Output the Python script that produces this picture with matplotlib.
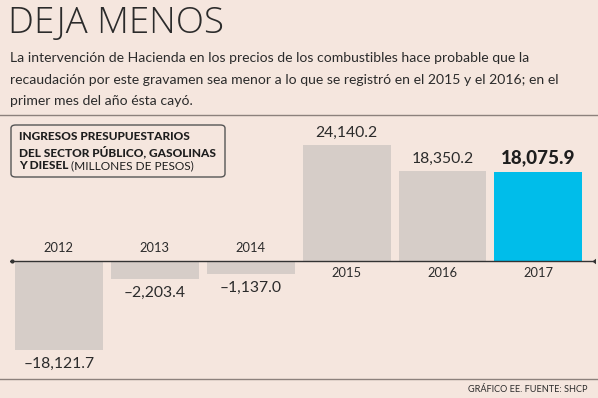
import matplotlib.pyplot as plt
import numpy as np
from matplotlib.patches import FancyBboxPatch

# Datos: ingresos presupuestarios, gasolinas y diesel (millones de pesos)
years = ['2012', '2013', '2014', '2015', '2016', '2017']
values = [-18121.7, -2203.4, -1137.0, 24140.2, 18350.2, 18075.9]
labels = ['\u201318,121.7', '\u20132,203.4', '\u20131,137.0',
          '24,140.2', '18,350.2', '18,075.9']

title = 'DEJA MENOS'
subtitle = ['La intervención de Hacienda en los precios de los combustibles hace probable que la',
            'recaudación por este gravamen sea menor a lo que se registró en el 2015 y el 2016; en el',
            'primer mes del año ésta cayó.']
source = 'GRÁFICO EE. FUENTE: SHCP'

bg = '#f5e6de'
grey_bar = '#d6cdc8'
blue_bar = '#00bdea'
txt = '#2b2b2b'

W, H = 598, 398
fig = plt.figure(figsize=(W / 100, H / 100), dpi=100, facecolor=bg)


def fx(px):
    return px / W


def fy(py):
    return 1 - py / H


# Titulo y texto
fig.text(fx(8), fy(23), title, fontsize=26.5, family='Open Sans',
         weight='light', color=txt, va='center', ha='left')
for i, line in enumerate(subtitle):
    fig.text(fx(10), fy(58 + 21.5 * i), line, fontsize=10.1, family='Lato',
             color=txt, va='center', ha='left')

# lineas horizontales
fig.add_artist(plt.Line2D([0, 1], [fy(115), fy(115)], color='#8c817c', lw=1))
fig.add_artist(plt.Line2D([0, 1], [fy(379), fy(379)], color='#8c817c', lw=1))

fig.text(fx(588), fy(389), source, fontsize=6.6, family='Lato',
         color=txt, va='center', ha='right')

# Recuadro
box = FancyBboxPatch((fx(11), fy(177)), fx(214), (177 - 125) / H,
                     boxstyle='round,pad=0,rounding_size=0.008',
                     transform=fig.transFigure, fc='none', ec='#555555', lw=1)
fig.add_artist(box)
box_lines = ['INGRESOS PRESUPUESTARIOS', 'DEL SECTOR PÚBLICO, GASOLINAS']
for i, line in enumerate(box_lines):
    fig.text(fx(19), fy(137 + 14.5 * i), line, fontsize=8.6, family='Lato',
             weight='black', color='#1e1e1e', va='center', ha='left')
t = fig.text(fx(19), fy(166), 'Y DIESEL', fontsize=8.6, family='Lato',
             weight='black', color='#1e1e1e', va='center', ha='left')
fig.canvas.draw()
bb = t.get_window_extent()
fig.text(bb.x1 / W + fx(3), fy(166), '(MILLONES DE PESOS)', fontsize=8.6,
         family='Lato', color='#1e1e1e', va='center', ha='left')

# Grafica: escala con longitud minima de barra (como en el original)
k = 1700.0


def fwd(v):
    v = np.asarray(v, dtype=float)
    return np.sign(v) * (np.abs(v) + k)


def inv(u):
    u = np.asarray(u, dtype=float)
    return np.sign(u) * np.maximum(np.abs(u) - k, 0)


top_px, bot_px, axis_px = 120, 378, 261
ax = fig.add_axes([fx(10), fy(bot_px), fx(595 - 10), (bot_px - top_px) / H])
ax.set_facecolor('none')
ax.set_yscale('function', functions=(fwd, inv))
px_per_unit = (261 - 145) / fwd(24140.2)
ax.set_ylim(-((bot_px - axis_px) / px_per_unit - k),
            (axis_px - top_px) / px_per_unit - k)
ax.set_xlim(-0.51, 5.59)

x = np.arange(len(years))
colors = [grey_bar] * 5 + [blue_bar]
ax.bar(x, values, width=0.917, color=colors, zorder=1)
ax.axhline(0, color='#333333', lw=1, zorder=3)
ax.plot([-0.49], [0], marker='o', ms=2, color='#333333', zorder=3)
ax.plot([5.57], [0], marker=4, ms=4, color='#333333', zorder=3)

for i, (yr, v, lab) in enumerate(zip(years, values, labels)):
    if v < 0:
        ax.annotate(yr, (i, 0), xytext=(0, 5), textcoords='offset points',
                    ha='center', va='bottom', fontsize=9.3, family='Lato',
                    color=txt)
        ax.annotate(lab, (i, v), xytext=(0, -5), textcoords='offset points',
                    ha='center', va='top', fontsize=11.3, family='Lato',
                    color=txt)
    else:
        ax.annotate(yr, (i, 0), xytext=(0, -4), textcoords='offset points',
                    ha='center', va='top', fontsize=9.3, family='Lato',
                    color=txt)
        bold = (i == len(years) - 1)
        ax.annotate(lab, (i, v), xytext=(0, 4), textcoords='offset points',
                    ha='center', va='bottom', fontsize=13.5 if bold else 11.3,
                    family='Lato', weight='black' if bold else 'normal',
                    color='#1e1e1e' if bold else txt)

ax.set_xticks([])
ax.set_yticks([])
ax.yaxis.set_minor_locator(plt.NullLocator())
for s in ax.spines.values():
    s.set_visible(False)

fig.savefig('out.png', dpi=100, facecolor=bg)
